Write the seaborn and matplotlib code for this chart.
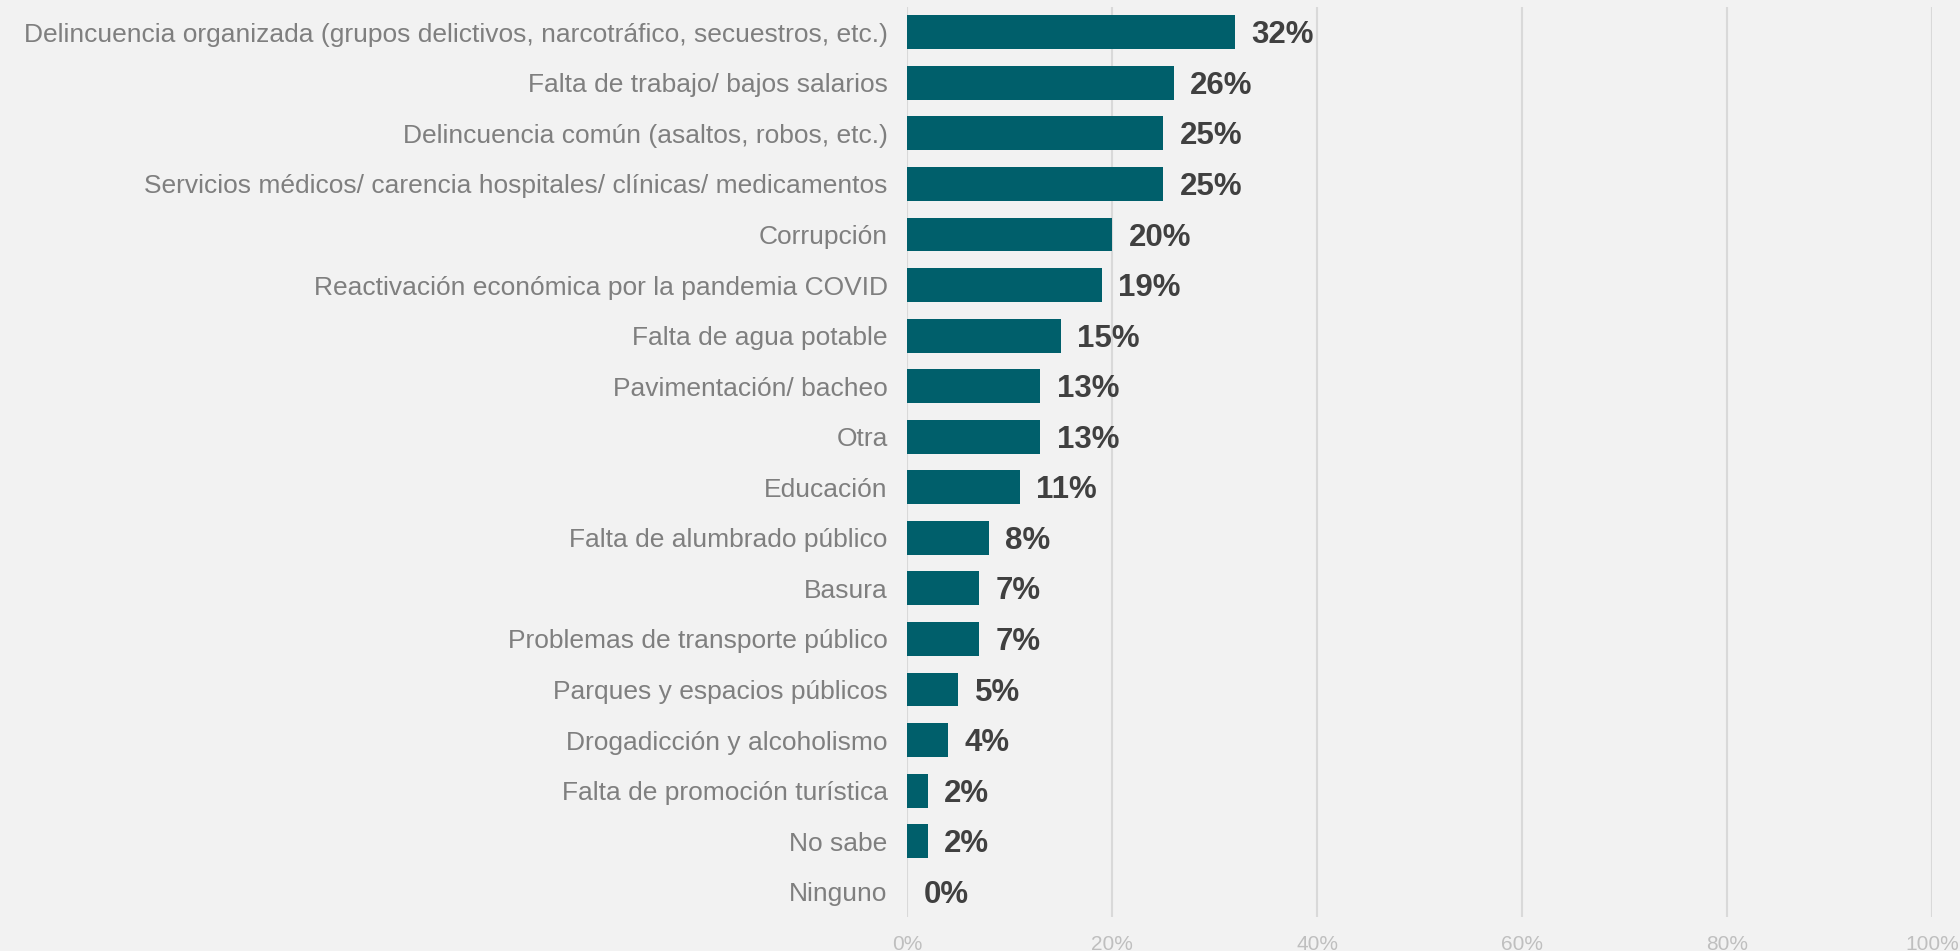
import pandas as pd
import matplotlib
matplotlib.use("Agg")
import matplotlib.pyplot as plt
import seaborn as sns

# datos de la gráfica
categorias = [
    "Delincuencia organizada (grupos delictivos, narcotráfico, secuestros, etc.)",
    "Falta de trabajo/ bajos salarios",
    "Delincuencia común (asaltos, robos, etc.)",
    "Servicios médicos/ carencia hospitales/ clínicas/ medicamentos",
    "Corrupción",
    "Reactivación económica por la pandemia COVID",
    "Falta de agua potable",
    "Pavimentación/ bacheo",
    "Otra",
    "Educación",
    "Falta de alumbrado público",
    "Basura",
    "Problemas de transporte público",
    "Parques y espacios públicos",
    "Drogadicción y alcoholismo",
    "Falta de promoción turística",
    "No sabe",
    "Ninguno",
]
porcentajes = [32, 26, 25, 25, 20, 19, 15, 13, 13, 11, 8, 7, 7, 5, 4, 2, 2, 0]
ticks_x = [0, 20, 40, 60, 80, 100]

df = pd.DataFrame({"Problema": categorias, "Porcentaje": porcentajes})

fondo = "#F2F2F2"
sns.set_theme(style="white")
plt.rcParams["font.family"] = ["Liberation Sans", "DejaVu Sans"]

fig = plt.figure(figsize=(19.6, 9.51), dpi=100, facecolor=fondo)
ax = fig.add_axes([0.4628, 0.0358, 0.5229, 0.9568])
ax.set_facecolor(fondo)

sns.barplot(data=df, x="Porcentaje", y="Problema", orient="h", color="#005F6B",
            saturation=1, width=0.67, edgecolor="none", ax=ax)

# etiquetas de valor
for i, v in enumerate(porcentajes):
    ax.text(v + 1.6, i + 0.06, f"{v}%", va="center", ha="left", fontsize=22.5,
            fontweight="bold", color="#404040")

ax.set_xlim(0, 100)
ax.set_ylim(len(categorias) - 0.5, -0.5)
ax.set_xticks(ticks_x)
ax.set_xticklabels([f"{t}%" for t in ticks_x], color="#BFBFBF", fontsize=15)
ax.tick_params(axis="x", length=0, pad=13)
ax.tick_params(axis="y", length=0, pad=14, labelsize=19, labelcolor="#7F7F7F")
ax.set_xlabel("")
ax.set_ylabel("")
ax.xaxis.grid(True, color="#D9D9D9", linewidth=1.5)
ax.set_axisbelow(True)
for s in ax.spines.values():
    s.set_visible(False)

fig.savefig("out.png", dpi=100, facecolor=fondo)
